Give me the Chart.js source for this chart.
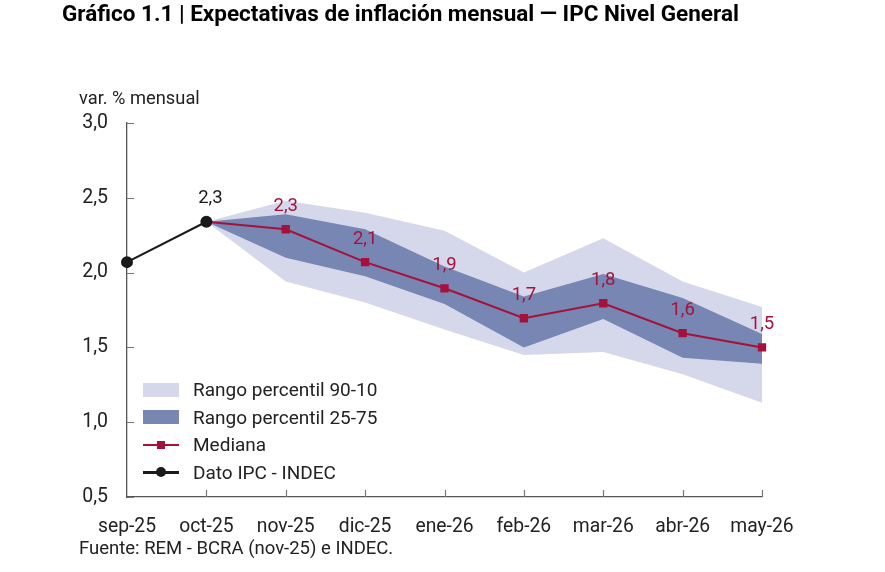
<!DOCTYPE html>
<html lang="es">
<head>
    <meta charset="UTF-8">
    <title>Expectativas de inflación mensual</title>
    <script src="https://cdn.jsdelivr.net/npm/chart.js"></script>
    <style>
        body {
            margin: 0;
            font-family: 'Roboto', sans-serif;
            background: #fff;
        }
        .wrap {
            position: relative;
            width: 885px;
            height: 572px;
        }
        #chart {
            position: absolute;
            left: 0;
            top: 0;
        }
        .title {
            position: absolute;
            left: 62px;
            top: 0px;
            font-size: 22.5px;
            font-weight: bold;
            color: #000;
            white-space: nowrap;
        }
        .unit {
            position: absolute;
            left: 79px;
            top: 87px;
            font-size: 18.3px;
            color: #222;
        }
        .source {
            position: absolute;
            left: 79px;
            top: 537px;
            font-size: 18.5px;
            color: #222;
        }
        .legend {
            position: absolute;
            left: 143px;
            top: 376px;
            font-size: 19px;
            color: #222;
        }
        .legend .item {
            height: 27.5px;
            display: flex;
            align-items: center;
        }
        .legend .key {
            width: 36px;
            height: 14px;
            margin-right: 14px;
            position: relative;
        }
        .key .ln {
            position: absolute;
            left: 0;
            right: 0;
            top: 6px;
            height: 2px;
        }
        .key .mk {
            position: absolute;
            left: 14px;
            top: 3px;
            width: 8px;
            height: 8px;
        }
    </style>
</head>
<body>
<div class="wrap">
    <canvas id="chart" width="885" height="572"></canvas>
    <div class="title">Gráfico 1.1 | Expectativas de inflación mensual — IPC Nivel General</div>
    <div class="unit">var. % mensual</div>
    <div class="legend">
        <div class="item"><span class="key" style="background:#d5d8ea"></span>Rango percentil 90-10</div>
        <div class="item"><span class="key" style="background:#7886b3"></span>Rango percentil 25-75</div>
        <div class="item"><span class="key"><span class="ln" style="background:#a4123c"></span><span class="mk" style="background:#a4123c"></span></span>Mediana</div>
        <div class="item"><span class="key"><span class="ln" style="background:#1a1a1a;height:2.5px"></span><span class="mk" style="background:#1a1a1a;border-radius:50%;left:13px;top:2px;width:10px;height:10px"></span></span>Dato IPC - INDEC</div>
    </div>
    <div class="source">Fuente: REM - BCRA (nov-25) e INDEC.</div>
</div>

<script>
    // Datos
    var months = ['sep-25', 'oct-25', 'nov-25', 'dic-25', 'ene-26', 'feb-26', 'mar-26', 'abr-26', 'may-26'];
    var ipc = [2.07, 2.34, null, null, null, null, null, null, null];
    var mediana = [null, 2.34, 2.29, 2.07, 1.895, 1.695, 1.795, 1.595, 1.5];
    var p90 = [null, 2.34, 2.48, 2.40, 2.28, 2.00, 2.23, 1.94, 1.77];
    var p10 = [null, 2.34, 1.94, 1.80, 1.62, 1.45, 1.47, 1.32, 1.13];
    var p75 = [null, 2.34, 2.39, 2.29, 2.04, 1.84, 1.99, 1.83, 1.59];
    var p25 = [null, 2.34, 2.10, 1.975, 1.79, 1.50, 1.69, 1.43, 1.39];
    var yTicks = [0.5, 1.0, 1.5, 2.0, 2.5, 3.0];

    var LIGHT = '#d5d8ea', DARK = '#7886b3', RED = '#a4123c', BLACK = '#1a1a1a';

    function fmt(v) {
        return v.toFixed(1).replace('.', ',');
    }

    // ticks hacia adentro + etiquetas de valores
    var extras = {
        id: 'extras',
        afterDraw: function (chart) {
            var ctx = chart.ctx;
            var a = chart.chartArea;
            var x = chart.scales.x, y = chart.scales.y;
            ctx.save();
            ctx.strokeStyle = '#777';
            ctx.lineWidth = 1.2;
            ctx.beginPath();
            yTicks.forEach(function (t) {
                var py = Math.round(y.getPixelForValue(t)) + 0.5;
                ctx.moveTo(a.left, py);
                ctx.lineTo(a.left + 7, py);
            });
            months.forEach(function (m, i) {
                if (i === 0) return;
                var px = Math.round(x.getPixelForValue(i)) + 0.5;
                ctx.moveTo(px, a.bottom);
                ctx.lineTo(px, a.bottom - 7);
            });
            ctx.stroke();

            ctx.font = '18.5px Roboto';
            ctx.textAlign = 'center';
            ctx.textBaseline = 'middle';
            var medMeta = chart.getDatasetMeta(1);
            mediana.forEach(function (v, i) {
                if (v === null || i < 2) return;
                var pt = medMeta.data[i];
                ctx.fillStyle = RED;
                ctx.fillText(fmt(v), pt.x, pt.y - 23);
            });
            var ipcMeta = chart.getDatasetMeta(0);
            var p = ipcMeta.data[1];
            ctx.fillStyle = BLACK;
            ctx.fillText(fmt(ipc[1]), p.x + 4, p.y - 23);
            ctx.restore();
        }
    };

    var ctx = document.getElementById('chart').getContext('2d');
    var chart = new Chart(ctx, {
        type: 'line',
        data: {
            labels: months,
            datasets: [
                {
                    label: 'Dato IPC - INDEC',
                    data: ipc,
                    borderColor: BLACK,
                    backgroundColor: BLACK,
                    borderWidth: 2,
                    pointRadius: 5,
                    pointStyle: 'circle',
                    fill: false,
                    order: 0
                },
                {
                    label: 'Mediana',
                    data: mediana,
                    borderColor: RED,
                    backgroundColor: RED,
                    borderWidth: 2,
                    pointStyle: 'rect',
                    pointRadius: [0, 0, 4.5, 4.5, 4.5, 4.5, 4.5, 4.5, 4.5],
                    fill: false,
                    order: 1
                },
                {
                    label: 'p75',
                    data: p75,
                    borderWidth: 0,
                    pointRadius: 0,
                    backgroundColor: DARK,
                    fill: 3,
                    order: 2
                },
                {
                    label: 'p25',
                    data: p25,
                    borderWidth: 0,
                    pointRadius: 0,
                    fill: false,
                    order: 3
                },
                {
                    label: 'p90',
                    data: p90,
                    borderWidth: 0,
                    pointRadius: 0,
                    backgroundColor: LIGHT,
                    fill: 5,
                    order: 4
                },
                {
                    label: 'p10',
                    data: p10,
                    borderWidth: 0,
                    pointRadius: 0,
                    fill: false,
                    order: 5
                }
            ]
        },
        options: {
            responsive: false,
            animation: false,
            layout: {
                padding: { left: 0, top: 123, right: 123, bottom: 0 }
            },
            plugins: {
                legend: { display: false },
                tooltip: { enabled: false }
            },
            scales: {
                x: {
                    offset: false,
                    grid: { display: false, drawTicks: false },
                    border: { display: true, color: '#555', width: 1.3 },
                    ticks: {
                        font: { family: 'Roboto', size: 19.3 },
                        color: '#222',
                        padding: 19,
                        maxRotation: 0,
                        autoSkip: false
                    },
                    afterFit: function (s) { s.height = 75; }
                },
                y: {
                    min: 0.5,
                    max: 3.0,
                    afterBuildTicks: function (s) {
                        s.ticks = yTicks.map(function (v) { return { value: v }; });
                    },
                    grid: { display: false, drawTicks: false },
                    border: { display: true, color: '#555', width: 1.3 },
                    ticks: {
                        font: { family: 'Roboto', size: 19.5 },
                        color: '#222',
                        padding: 19,
                        callback: function (v) { return fmt(v); }
                    },
                    afterFit: function (s) { s.width = 127; }
                }
            }
        },
        plugins: [extras]
    });
</script>
</body>
</html>
